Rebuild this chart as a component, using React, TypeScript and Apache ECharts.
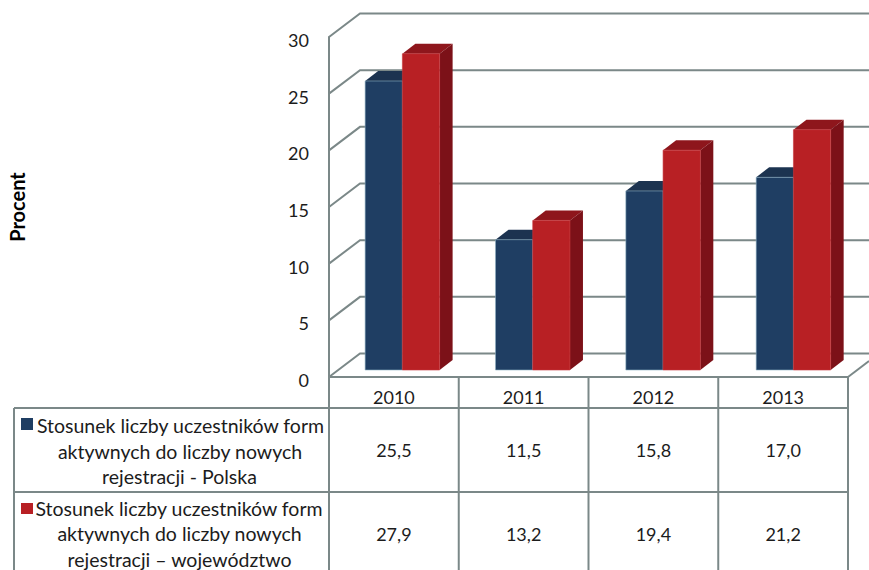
import React, { useEffect, useRef } from "react";
import * as echarts from "echarts";

const categories = ["2010", "2011", "2012", "2013"];
const polska = [25.5, 11.5, 15.8, 17.0];
const wojewodztwo = [27.9, 13.2, 19.4, 21.2];
const polskaLabels = ["25,5", "11,5", "15,8", "17,0"];
const wojewodztwoLabels = ["27,9", "13,2", "19,4", "21,2"];
const yTicks = [0, 5, 10, 15, 20, 25, 30];
const polskaName = ["Stosunek liczby uczestników form", "aktywnych do liczby nowych", "rejestracji - Polska"];
const wojewodztwoName = ["Stosunek liczby uczestników form", "aktywnych do liczby nowych", "rejestracji – województwo"];

const FONT = "Lato";
const LINE = "#7b8888";
const W = 869;
const G = { left: 329, top: 37, width: 519, height: 340 };
const colW = G.width / categories.length;

const barStyles = [
  { front: "#1f3e63", top: "#1c3350", side: "#16293f", edge: "#8fb2c4" },
  { front: "#b82024", top: "#8e161c", side: "#7c1118", edge: "#c8383c" },
];

function renderBar(params: any, api: any) {
  const cat = api.value(0);
  const val = api.value(1);
  const s = api.value(2);
  const top = api.coord([cat, val]);
  const base = api.coord([cat, 0]);
  const bw = api.size([1, 0])[0] * 0.287;
  const ox = 8.5 + cat * 0.6, oy = -7, dx = 13, dy = -10;
  const x0 = top[0] + ox + (s === 0 ? -bw : 0);
  const x1 = x0 + bw;
  const yt = top[1] + oy;
  const yb = base[1] + oy;
  const st = barStyles[s];
  return {
    type: "group",
    children: [
      { type: "polygon", shape: { points: [[x0, yt], [x1, yt], [x1 + dx, yt + dy], [x0 + dx, yt + dy]] }, style: { fill: st.top } },
      { type: "polygon", shape: { points: [[x1, yt], [x1 + dx, yt + dy], [x1 + dx, yb + dy], [x1, yb]] }, style: { fill: st.side } },
      { type: "rect", shape: { x: x0, y: yt, width: bw, height: yb - yt }, style: { fill: st.front, stroke: st.edge, lineWidth: 0.6 } },
    ],
  };
}

function renderGrid(params: any, api: any) {
  const y = api.coord([0, api.value(0)])[1];
  const x = params.coordSys.x;
  return {
    type: "polyline",
    shape: { points: [[x, y], [x + 31, y - 23.5], [W, y - 23.5]] },
    style: { fill: "none", stroke: LINE, lineWidth: 2 },
  };
}

function textEl(text: string, x: number, y: number, size = 18) {
  return { type: "text", x, y, z: 10, style: { text, x: 0, y: 0, align: "center", verticalAlign: "middle", font: `${size}px ${FONT}`, fill: "#1c1c1c" } };
}
function lineEl(x1: number, y1: number, x2: number, y2: number) {
  return { type: "line", z: 5, shape: { x1, y1, x2, y2 }, style: { stroke: LINE, lineWidth: 2 } };
}

export default function App() {
  const ref = useRef<HTMLDivElement>(null);
  useEffect(() => {
    const chart = echarts.init(ref.current!, undefined, { renderer: "svg" });
    const right = G.left + G.width;
    const columns = categories.map((_, i) => G.left + colW * (i + 0.5));
    const graphic: any[] = [
      lineEl(14, 408, right, 408),
      lineEl(14, 492, right, 492),
      lineEl(14, 408, 14, 570),
      lineEl(right, G.top + G.height, W, G.top + G.height - 16),
      ...[0, 1, 2, 3, 4].map((i) => lineEl(G.left + colW * i, G.top + G.height, G.left + colW * i, 570)),
      { type: "rect", z: 6, shape: { x: 21, y: 418, width: 12, height: 12 }, style: { fill: barStyles[0].front } },
      { type: "rect", z: 6, shape: { x: 21, y: 503, width: 12, height: 11 }, style: { fill: barStyles[1].front } },
      textEl(polskaName[0], 180.5, 425, 19.5),
      textEl(polskaName[1], 180, 451, 19.5),
      textEl(polskaName[2], 179.5, 476, 19.5),
      textEl(wojewodztwoName[0], 179, 508, 19.5),
      textEl(wojewodztwoName[1], 179.5, 533, 19.5),
      textEl(wojewodztwoName[2], 179.5, 559, 19.5),
      ...polskaLabels.map((t, i) => textEl(t, columns[i], 450)),
      ...wojewodztwoLabels.map((t, i) => textEl(t, columns[i], 534)),
    ];
    chart.setOption({
      animation: false,
      backgroundColor: "#fff",
      grid: { ...G, outerBoundsMode: "none", containLabel: false },
      xAxis: {
        type: "category",
        data: categories,
        axisTick: { show: false },
        axisLine: { lineStyle: { color: LINE, width: 2 } },
        axisLabel: { fontFamily: FONT, fontSize: 18, color: "#1c1c1c", margin: 11 },
      },
      yAxis: {
        type: "value",
        min: 0,
        max: 30,
        interval: 5,
        name: "Procent",
        nameLocation: "middle",
        nameGap: 302,
        nameTextStyle: { fontFamily: FONT, fontWeight: "bold", fontSize: 20, color: "#000" },
        axisLine: { show: true, lineStyle: { color: LINE, width: 2 } },
        axisTick: { show: false },
        splitLine: { show: false },
        axisLabel: { fontFamily: FONT, fontSize: 18, color: "#1c1c1c", margin: 20, verticalAlign: "top", lineHeight: 6 },
      },
      graphic,
      series: [
        {
          type: "custom",
          name: "grid",
          clip: false,
          silent: true,
          z: 1,
          renderItem: renderGrid,
          encode: { y: 0 },
          data: yTicks.map((t) => [t]),
        },
        {
          type: "custom",
          name: polskaName.join(" "),
          clip: false,
          z: 3,
          renderItem: renderBar,
          encode: { x: 0, y: 1 },
          data: polska.map((v, i) => [i, v, 0]),
        },
        {
          type: "custom",
          name: wojewodztwoName.join(" "),
          clip: false,
          z: 4,
          renderItem: renderBar,
          encode: { x: 0, y: 1 },
          data: wojewodztwo.map((v, i) => [i, v, 1]),
        },
      ],
    });
    return () => chart.dispose();
  }, []);
  return <div ref={ref} style={{ position: "fixed", left: 0, top: 0, width: 869, height: 570, background: "#fff" }} />;
}
